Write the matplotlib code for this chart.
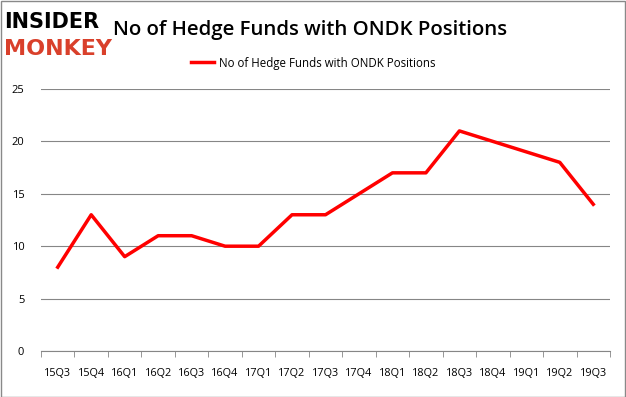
import matplotlib.pyplot as plt
from matplotlib.ticker import MultipleLocator, FixedLocator

quarters = ['15Q3', '15Q4', '16Q1', '16Q2', '16Q3', '16Q4', '17Q1', '17Q2', '17Q3',
            '17Q4', '18Q1', '18Q2', '18Q3', '18Q4', '19Q1', '19Q2', '19Q3']
funds = [8, 13, 9, 11, 11, 10, 10, 13, 13, 15, 17, 17, 21, 20, 19, 18, 14]
series_name = 'No of Hedge Funds with ONDK Positions'

plt.rcParams['font.family'] = ['Open Sans', 'DejaVu Sans']

fig = plt.figure(figsize=(6.26, 3.97), dpi=100)
ax = fig.add_axes([41/626, 1 - 351/397, 569/626, 262/397])

x = list(range(len(quarters)))
ax.plot(x, funds, color='#ff0000', lw=2.5, label=series_name)

ax.set_xlim(-0.5, len(quarters) - 0.5)
ax.set_ylim(0, 25)
ax.yaxis.set_major_locator(MultipleLocator(5))
ax.set_xticks(x)
ax.set_xticklabels(quarters, fontsize=7.8)
ax.xaxis.set_minor_locator(FixedLocator([i - 0.5 for i in range(len(quarters) + 1)]))
ax.tick_params(axis='x', which='major', length=0, pad=12)
ax.tick_params(axis='x', which='minor', length=4, color='#868686')
ax.tick_params(axis='y', length=0, labelsize=8, pad=12)
ax.grid(axis='y', color='#868686', lw=0.8)
ax.set_axisbelow(True)
for s in ['top', 'right', 'left']:
    ax.spines[s].set_visible(False)
ax.spines['bottom'].set_color('#868686')

fig.legend(loc='center', bbox_to_anchor=(313/626, 1 - 63/397), frameon=False,
           fontsize=8.3, handlelength=2.0, handletextpad=0.4)

fig.text(113/626, 1 - 30/397, series_name, fontsize=14.7, fontweight='semibold',
         va='center', ha='left')
fig.text(4/626, 1 - 22/397, 'INSIDER', fontsize=15, fontweight='heavy', va='center',
         color='black', family='DejaVu Sans')
fig.text(4/626, 1 - 49/397, 'MONKEY', fontsize=16, fontweight='heavy', va='center',
         color='#d9402b', family='DejaVu Sans')

fig.patches.append(plt.Rectangle((0.001, 0.001), 0.997, 0.996, transform=fig.transFigure,
                                 fill=False, edgecolor='#898989', lw=1))

fig.savefig('out.png', dpi=100)
